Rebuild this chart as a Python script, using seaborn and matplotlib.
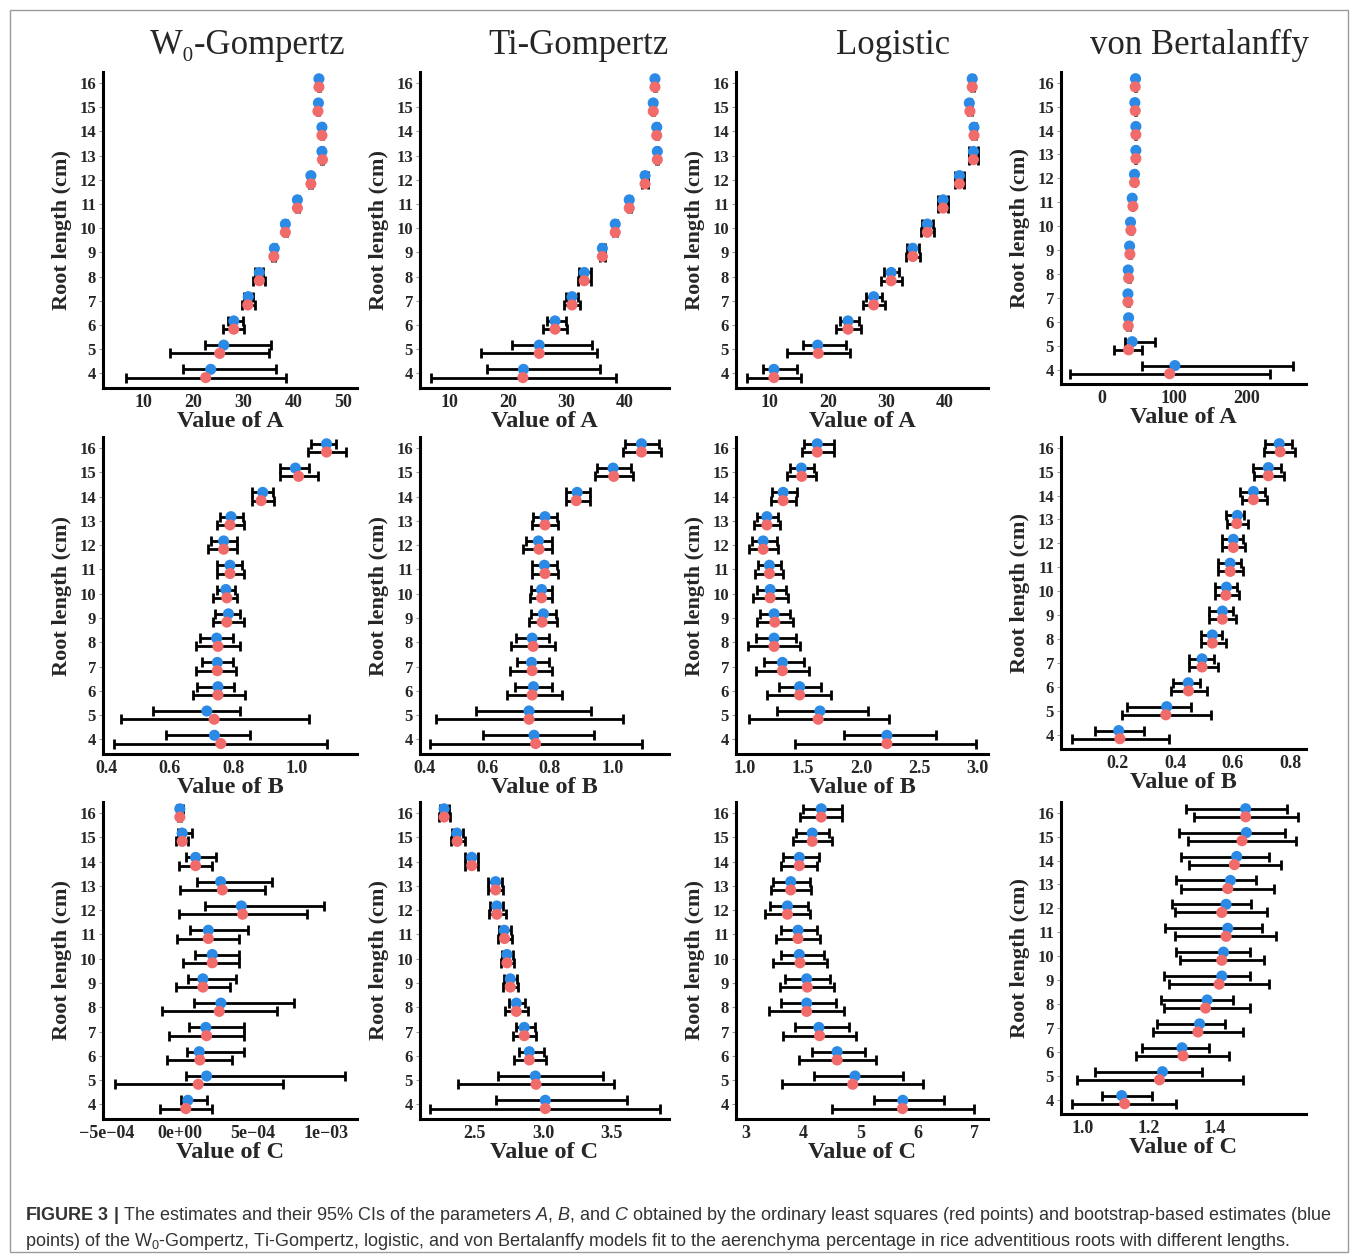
import numpy as np
import pandas as pd
import seaborn as sns
import matplotlib.pyplot as plt
from matplotlib.patches import Rectangle

root_length = list(range(4, 17))

# (estimate, lower, upper) for root length 4..16; ols = red points, boot = blue points
wg_a_ols = [(22.5, 6.5, 38.5), (25.3, 15.4, 35.2), (28.1, 26.0, 30.1), (30.9, 29.7, 32.3),
            (33.2, 32.0, 34.3), (36.1, 35.8, 36.4), (38.4, 38.1, 38.7), (40.8, 40.5, 41.1),
            (43.5, 43.2, 43.8), (45.8, 45.6, 46.0), (45.7, 45.5, 45.9), (44.9, 44.7, 45.1),
            (45.1, 44.9, 45.3)]
wg_a_boot = [(23.5, 18.0, 36.5), (26.1, 22.3, 35.5), (28.1, 26.9, 30.0), (31.0, 30.1, 32.0),
             (33.2, 32.4, 34.0), (36.2, 35.9, 36.5), (38.4, 38.1, 38.7), (40.8, 40.5, 41.1),
             (43.5, 43.2, 43.8), (45.7, 45.5, 45.9), (45.7, 45.5, 45.9), (45.0, 44.8, 45.2),
             (45.1, 44.9, 45.3)]
tg_a_ols = [(22.5, 6.7, 38.5), (25.3, 15.4, 35.1), (28.0, 25.9, 30.1), (30.9, 29.6, 32.2),
            (33.0, 32.0, 34.2), (36.1, 35.7, 36.5), (38.3, 38.0, 38.6), (40.7, 40.4, 41.0),
            (43.4, 42.9, 43.9), (45.5, 45.3, 45.7), (45.4, 45.2, 45.6), (44.8, 44.6, 45.0),
            (45.1, 44.9, 45.3)]
tg_a_boot = [(22.6, 16.4, 35.7), (25.3, 20.7, 34.4), (28.0, 26.7, 29.8), (30.9, 29.8, 32.0),
             (33.0, 32.1, 34.1), (36.1, 35.7, 36.5), (38.3, 38.0, 38.6), (40.7, 40.4, 41.0),
             (43.4, 42.9, 43.9), (45.5, 45.3, 45.7), (45.4, 45.2, 45.6), (44.8, 44.6, 45.0),
             (45.1, 44.9, 45.3)]
lg_a_ols = [(10.7, 6.0, 15.4), (18.3, 13.0, 23.7), (23.4, 21.3, 25.6), (27.8, 25.9, 29.8),
            (30.8, 29.1, 32.6), (34.5, 33.3, 35.7), (37.0, 35.9, 38.1), (39.7, 38.8, 40.6),
            (42.5, 41.7, 43.3), (44.9, 44.2, 45.6), (45.0, 44.7, 45.3), (44.3, 44.0, 44.6),
            (44.7, 44.4, 45.0)]
lg_a_boot = [(10.7, 8.9, 14.7), (18.2, 15.7, 23.1), (23.4, 22.0, 25.2), (27.8, 26.5, 29.3),
             (30.8, 29.5, 32.1), (34.5, 33.5, 35.5), (37.0, 36.1, 37.9), (39.7, 38.8, 40.6),
             (42.5, 41.7, 43.3), (44.9, 44.2, 45.6), (45.0, 44.7, 45.3), (44.2, 43.9, 44.5),
             (44.7, 44.4, 45.0)]
vb_a_ols = [(93.8, -44.6, 233.6), (36.8, 16.1, 55.2), (36.3, 34.0, 38.5), (35.9, 34.5, 37.3),
            (36.8, 35.5, 38.1), (38.6, 37.5, 39.7), (40.0, 39.0, 41.0), (42.8, 42.0, 43.6),
            (45.0, 44.3, 45.7), (46.9, 46.2, 47.6), (46.9, 46.2, 47.6), (46.0, 45.3, 46.7),
            (46.0, 45.3, 46.7)]
vb_a_boot = [(101.1, 55.2, 265.3), (41.8, 32.2, 73.6), (36.8, 35.5, 38.1), (35.9, 34.9, 36.9),
             (36.3, 35.3, 37.3), (38.2, 37.2, 39.2), (39.5, 38.5, 40.5), (41.8, 41.0, 42.6),
             (45.0, 44.3, 45.7), (46.9, 46.2, 47.6), (46.9, 46.2, 47.6), (45.5, 44.8, 46.2),
             (46.4, 45.7, 47.1)]

wg_b_ols = [(0.760, 0.423, 1.095), (0.739, 0.445, 1.037), (0.751, 0.672, 0.837), (0.749, 0.682, 0.808),
            (0.751, 0.681, 0.819), (0.779, 0.737, 0.832), (0.779, 0.737, 0.811), (0.789, 0.747, 0.832),
            (0.769, 0.719, 0.811), (0.789, 0.747, 0.832), (0.887, 0.858, 0.928), (1.005, 0.945, 1.066),
            (1.093, 1.034, 1.153)]
wg_b_boot = [(0.740, 0.589, 0.853), (0.716, 0.547, 0.821), (0.751, 0.684, 0.803), (0.749, 0.700, 0.797),
             (0.747, 0.695, 0.798), (0.784, 0.742, 0.821), (0.776, 0.747, 0.805), (0.789, 0.749, 0.826),
             (0.769, 0.729, 0.811), (0.792, 0.756, 0.829), (0.892, 0.858, 0.926), (0.995, 0.947, 1.037),
             (1.093, 1.044, 1.124)]
tg_b_ols = [(0.754, 0.415, 1.093), (0.733, 0.434, 1.034), (0.743, 0.663, 0.837), (0.743, 0.672, 0.807),
            (0.746, 0.674, 0.816), (0.775, 0.733, 0.823), (0.773, 0.735, 0.807), (0.784, 0.743, 0.825),
            (0.765, 0.715, 0.807), (0.784, 0.743, 0.825), (0.884, 0.852, 0.927), (1.004, 0.944, 1.066),
            (1.093, 1.034, 1.154)]
tg_b_boot = [(0.749, 0.586, 0.941), (0.733, 0.562, 0.932), (0.747, 0.688, 0.807), (0.741, 0.693, 0.797),
             (0.743, 0.690, 0.797), (0.779, 0.738, 0.818), (0.773, 0.739, 0.807), (0.782, 0.744, 0.823),
             (0.763, 0.724, 0.805), (0.784, 0.747, 0.823), (0.887, 0.852, 0.927), (1.002, 0.949, 1.060),
             (1.093, 1.040, 1.149)]
lg_b_ols = [(2.223, 1.431, 2.994), (1.631, 1.031, 2.237), (1.471, 1.194, 1.743), (1.323, 1.094, 1.551),
            (1.251, 1.023, 1.471), (1.257, 1.103, 1.414), (1.217, 1.066, 1.371), (1.211, 1.089, 1.329),
            (1.157, 1.031, 1.286), (1.189, 1.080, 1.300), (1.329, 1.223, 1.443), (1.489, 1.366, 1.614),
            (1.623, 1.489, 1.766)]
lg_b_boot = [(2.223, 1.851, 2.646), (1.646, 1.274, 2.057), (1.471, 1.294, 1.657), (1.323, 1.166, 1.509),
             (1.251, 1.094, 1.443), (1.251, 1.131, 1.386), (1.217, 1.103, 1.351), (1.211, 1.114, 1.314),
             (1.157, 1.060, 1.280), (1.189, 1.100, 1.289), (1.329, 1.237, 1.446), (1.486, 1.389, 1.594),
             (1.623, 1.509, 1.766)]
vb_b_ols = [(0.207, 0.041, 0.378), (0.367, 0.215, 0.523), (0.446, 0.384, 0.512), (0.493, 0.448, 0.547),
            (0.529, 0.491, 0.576), (0.564, 0.517, 0.610), (0.576, 0.538, 0.622), (0.591, 0.550, 0.634),
            (0.602, 0.564, 0.642), (0.614, 0.579, 0.653), (0.672, 0.633, 0.719), (0.724, 0.675, 0.779),
            (0.765, 0.709, 0.816)]
vb_b_boot = [(0.203, 0.120, 0.291), (0.370, 0.233, 0.456), (0.445, 0.393, 0.486), (0.493, 0.448, 0.535),
             (0.529, 0.491, 0.564), (0.564, 0.517, 0.602), (0.578, 0.538, 0.616), (0.591, 0.547, 0.628),
             (0.602, 0.564, 0.634), (0.616, 0.576, 0.640), (0.672, 0.626, 0.712), (0.724, 0.669, 0.767),
             (0.762, 0.712, 0.805)]

# W0-Gompertz C values are in units of 1e-4
wg_c_ols = [(0.41, -1.37, 2.17), (1.26, -4.46, 7.03), (1.37, -0.85, 3.59), (1.83, -0.73, 4.42),
            (2.70, -1.19, 6.68), (1.58, -0.27, 3.43), (2.22, 0.23, 4.07), (1.95, -0.18, 4.07),
            (4.30, -0.05, 8.74), (2.91, 0.00, 5.84), (1.08, -0.07, 2.17), (0.16, -0.27, 0.57),
            (0.00, -0.10, 0.10)]
wg_c_boot = [(0.55, 0.05, 1.83), (1.83, 0.41, 11.33), (1.33, 0.46, 4.39), (1.78, 0.64, 4.39),
             (2.81, 0.96, 7.83), (1.58, 0.55, 3.82), (2.22, 1.01, 4.05), (1.95, 0.73, 4.67),
             (4.21, 1.74, 9.84), (2.79, 1.19, 6.29), (1.08, 0.41, 2.45), (0.16, -0.11, 0.85),
             (0.00, -0.18, 0.23)]
tg_c_ols = [(3.017, 2.176, 3.854), (2.949, 2.383, 3.522), (2.900, 2.785, 3.022), (2.863, 2.780, 2.951),
            (2.805, 2.724, 2.890), (2.761, 2.705, 2.815), (2.737, 2.693, 2.785), (2.719, 2.671, 2.773),
            (2.663, 2.607, 2.729), (2.654, 2.598, 2.707), (2.480, 2.427, 2.529), (2.373, 2.327, 2.427),
            (2.278, 2.241, 2.322)]
tg_c_boot = [(3.017, 2.659, 3.610), (2.944, 2.668, 3.439), (2.900, 2.822, 3.005), (2.863, 2.805, 2.939),
             (2.805, 2.749, 2.871), (2.761, 2.712, 2.810), (2.737, 2.700, 2.780), (2.717, 2.676, 2.768),
             (2.663, 2.615, 2.705), (2.654, 2.602, 2.700), (2.480, 2.432, 2.522), (2.371, 2.334, 2.415),
             (2.278, 2.249, 2.315)]
lg_c_ols = [(5.736, 4.496, 6.983), (4.867, 3.626, 6.090), (4.594, 3.928, 5.272), (4.287, 3.649, 4.925),
            (4.061, 3.406, 4.710), (4.072, 3.597, 4.548), (3.945, 3.475, 4.409), (3.910, 3.533, 4.287),
            (3.725, 3.336, 4.113), (3.783, 3.446, 4.130), (3.933, 3.609, 4.246), (4.159, 3.823, 4.496),
            (4.316, 3.945, 4.681)]
lg_c_boot = [(5.742, 5.232, 6.467), (4.907, 4.188, 5.754), (4.594, 4.159, 5.087), (4.275, 3.852, 4.809),
             (4.061, 3.609, 4.583), (4.061, 3.684, 4.467), (3.933, 3.609, 4.362), (3.910, 3.609, 4.246),
             (3.725, 3.417, 4.084), (3.783, 3.481, 4.113), (3.933, 3.655, 4.275), (4.159, 3.870, 4.449),
             (4.316, 4.003, 4.681)]
vb_c_ols = [(1.128, 0.969, 1.283), (1.233, 0.983, 1.485), (1.304, 1.163, 1.444), (1.349, 1.214, 1.485),
            (1.372, 1.248, 1.505), (1.413, 1.262, 1.564), (1.421, 1.296, 1.548), (1.434, 1.281, 1.585),
            (1.421, 1.281, 1.558), (1.439, 1.299, 1.577), (1.459, 1.321, 1.599), (1.482, 1.319, 1.646),
            (1.493, 1.337, 1.650)]
vb_c_boot = [(1.119, 1.059, 1.211), (1.242, 1.039, 1.362), (1.301, 1.181, 1.383), (1.354, 1.227, 1.432),
             (1.377, 1.238, 1.454), (1.421, 1.248, 1.505), (1.426, 1.283, 1.505), (1.439, 1.250, 1.541),
             (1.434, 1.272, 1.510), (1.447, 1.283, 1.523), (1.466, 1.299, 1.564), (1.495, 1.291, 1.612),
             (1.493, 1.313, 1.617)]

model_titles = ["W\u2080-Gompertz", "Ti-Gompertz", "Logistic", "von Bertalanffy"]

sns.set_theme(style="ticks")
plt.rcParams["font.family"] = ["Liberation Serif", "DejaVu Serif"]
plt.rcParams["mathtext.fontset"] = "custom"
plt.rcParams["mathtext.rm"] = "Liberation Sans"
plt.rcParams["mathtext.it"] = "Liberation Sans:italic"
plt.rcParams["mathtext.bf"] = "Liberation Sans:bold"

RED = "#f26b6b"
BLUE = "#2b8ae6"
W, H = 1358, 1259

fig = plt.figure(figsize=(W / 100, H / 100), dpi=100)


def px_axes(left, top, right, bottom):
    return fig.add_axes([left / W, 1 - bottom / H, (right - left) / W, (bottom - top) / H])


# panel specs: data, xlim, ticks, tick labels, xlabel, scale
panels = [
    [(wg_a_ols, wg_a_boot, (2, 52.7), [10, 20, 30, 40, 50], None, "A", 1),
     (tg_a_ols, tg_a_boot, (4.9, 47.5), [10, 20, 30, 40], None, "A", 1),
     (lg_a_ols, lg_a_boot, (4.2, 47.4), [10, 20, 30, 40], None, "A", 1),
     (vb_a_ols, vb_a_boot, (-57, 283), [0, 100, 200], None, "A", 1)],
    [(wg_b_ols, wg_b_boot, (0.389, 1.189), [0.4, 0.6, 0.8, 1.0], ["0.4", "0.6", "0.8", "1.0"], "B", 1),
     (tg_b_ols, tg_b_boot, (0.384, 1.181), [0.4, 0.6, 0.8, 1.0], ["0.4", "0.6", "0.8", "1.0"], "B", 1),
     (lg_b_ols, lg_b_boot, (0.923, 3.094), [1.0, 1.5, 2.0, 2.5, 3.0], ["1.0", "1.5", "2.0", "2.5", "3.0"], "B", 1),
     (vb_b_ols, vb_b_boot, (0.002, 0.855), [0.2, 0.4, 0.6, 0.8], ["0.2", "0.4", "0.6", "0.8"], "B", 1)],
    [(wg_c_ols, wg_c_boot, (-5.26e-4, 12.13e-4), [-5e-4, 0, 5e-4, 1e-3],
      ["\u22125e\u221204", "0e+00", "5e\u221204", "1e\u221203"], "C", 1e-4),
     (tg_c_ols, tg_c_boot, (2.102, 3.92), [2.5, 3.0, 3.5], ["2.5", "3.0", "3.5"], "C", 1),
     (lg_c_ols, lg_c_boot, (2.826, 7.232), [3, 4, 5, 6, 7], None, "C", 1),
     (vb_c_ols, vb_c_boot, (0.936, 1.675), [1.0, 1.2, 1.4], ["1.0", "1.2", "1.4"], "C", 1)],
]

col_lr = [(103, 357), (420, 669), (736, 988), (1061, 1306)]
row_tb = [(72, 388), (437, 754), (802, 1119)]
col4_bottom = [384, 749, 1114]

for r, row in enumerate(panels):
    for c, (ols, boot, xlim, ticks, ticklabels, pname, scale) in enumerate(row):
        left, right = col_lr[c]
        top, bottom = row_tb[r]
        if c == 3:
            bottom = col4_bottom[r]
        ax = px_axes(left, top, right, bottom)

        frames = []
        for name, data, off in (("boot", boot, 0.17), ("ols", ols, -0.17)):
            arr = np.array(data) * scale
            frames.append(pd.DataFrame({
                "value": arr[:, 0], "lo": arr[:, 1], "hi": arr[:, 2],
                "pos": np.array(root_length) + off, "method": name,
            }))
        df = pd.concat(frames, ignore_index=True)

        for name, sub in df.groupby("method", sort=False):
            ax.errorbar(sub["value"], sub["pos"],
                        xerr=[sub["value"] - sub["lo"], sub["hi"] - sub["value"]],
                        fmt="none", ecolor="black", elinewidth=2.0, capsize=3.5,
                        capthick=2.0, zorder=2)
        sns.scatterplot(data=df, x="value", y="pos", hue="method",
                        palette={"boot": BLUE, "ols": RED}, s=64, edgecolor="none",
                        legend=False, ax=ax, zorder=3)

        ax.set_xlim(*xlim)
        ax.set_ylim(3.4, 16.45)
        ax.set_yticks(root_length)
        ax.set_yticklabels([str(v) for v in root_length], fontsize=12, fontweight="bold")
        ax.set_xticks(ticks)
        if ticklabels is None:
            ticklabels = [str(t) for t in ticks]
        ax.set_xticklabels(ticklabels, fontsize=13, fontweight="bold")
        ax.tick_params(axis="y", length=3, width=0.8, color="#999999", pad=2)
        ax.tick_params(axis="x", length=0, pad=4)
        for side in ("top", "right"):
            ax.spines[side].set_visible(False)
        for side in ("left", "bottom"):
            ax.spines[side].set_linewidth(2.2)
            ax.spines[side].set_color("black")
        ax.set_xlabel(f"Value of {pname}", fontsize=17.5, fontweight="bold", labelpad=0)
        ax.set_ylabel("Root length (cm)", fontsize=16, fontweight="bold", labelpad=5)

title_x = [248, 578, 893, 1200]
for tx, title in zip(title_x, model_titles):
    fig.text(tx / W, 1 - 45 / H, title, ha="center", va="center", fontsize=25)

fig.patches.append(Rectangle((10 / W, 1 - 1252 / H), 1338 / W, 1242 / H,
                             transform=fig.transFigure, fill=False,
                             edgecolor="#9a9a9a", linewidth=1.0))

cap_font = ["Liberation Sans", "DejaVu Sans"]
line1 = (r"$\mathbf{FIGURE\ 3\ |}$ The estimates and their 95% CIs of the parameters $\mathit{A}$, "
         r"$\mathit{B}$, and $\mathit{C}$ obtained by the ordinary least squares (red points) and "
         r"bootstrap-based estimates (blue")
line2 = (r"points) of the W$_0$-Gompertz, Ti-Gompertz, logistic, and von Bertalanffy models fit to the "
         r"aerenchyma percentage in rice adventitious roots with different lengths.")
fig.text(25 / W, 1 - 1216 / H, line1, ha="left", va="center", fontsize=13,
         color="#333333", family=cap_font)
fig.text(25 / W, 1 - 1242 / H, line2, ha="left", va="center", fontsize=13,
         color="#333333", family=cap_font)

fig.savefig("out.png", dpi=100)
